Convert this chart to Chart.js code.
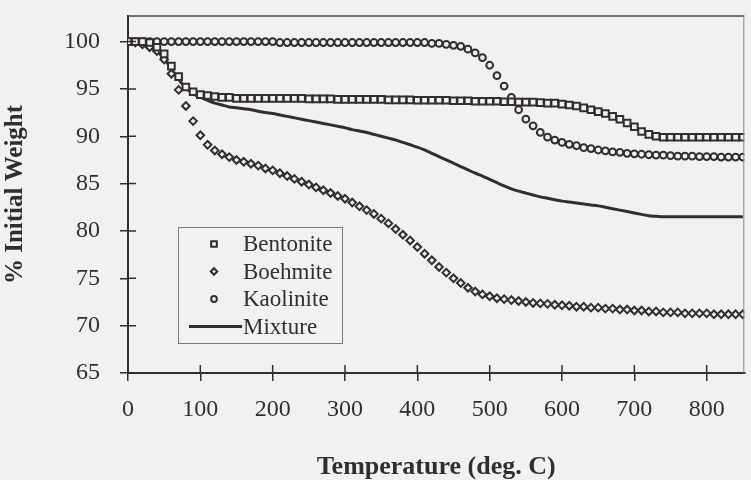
<!DOCTYPE html>
<html>
<head>
<meta charset="utf-8">
<title>TGA curves</title>
<script src="https://cdn.jsdelivr.net/npm/chart.js@4.4.1/dist/chart.umd.min.js"></script>
<style>
    html, body { margin: 0; padding: 0; background: #f1f2f0; }
    #wrap { width: 751px; height: 480px; }
</style>
</head>
<body>
<div id="wrap"><canvas id="tgaChart" width="751" height="480"></canvas></div>
<script>
// temperature in deg C, one reading every 10 degrees
const temps = [0, 10, 20, 30, 40, 50, 60, 70, 80, 90,
    100, 110, 120, 130, 140, 150, 160, 170, 180, 190,
    200, 210, 220, 230, 240, 250, 260, 270, 280, 290,
    300, 310, 320, 330, 340, 350, 360, 370, 380, 390,
    400, 410, 420, 430, 440, 450, 460, 470, 480, 490,
    500, 510, 520, 530, 540, 550, 560, 570, 580, 590,
    600, 610, 620, 630, 640, 650, 660, 670, 680, 690,
    700, 710, 720, 730, 740, 750, 760, 770, 780, 790,
    800, 810, 820, 830, 840, 850];

const bentonite = [100, 100, 100, 99.9, 99.4, 98.7, 97.4, 96.3, 95.2, 94.7,
    94.4, 94.3, 94.2, 94.1, 94.1, 94.0, 94.0, 94.0, 94.0, 94.0,
    94.0, 94.0, 94.0, 94.0, 94.0, 93.95, 93.95, 93.95, 93.95, 93.9,
    93.9, 93.9, 93.9, 93.9, 93.9, 93.9, 93.85, 93.85, 93.85, 93.85,
    93.8, 93.8, 93.8, 93.8, 93.8, 93.75, 93.75, 93.75, 93.7, 93.7,
    93.7, 93.7, 93.65, 93.65, 93.6, 93.6, 93.6, 93.55, 93.5, 93.5,
    93.4, 93.3, 93.2, 93.0, 92.8, 92.6, 92.4, 92.1, 91.8, 91.4,
    91.0, 90.5, 90.2, 90.0, 89.9, 89.9, 89.9, 89.9, 89.9, 89.9,
    89.9, 89.9, 89.9, 89.9, 89.9, 89.9];

const boehmite = [100, 99.9, 99.7, 99.4, 99.0, 98.1, 96.6, 94.9, 93.2, 91.6,
    90.1, 89.1, 88.5, 88.1, 87.8, 87.5, 87.3, 87.1, 86.9, 86.6,
    86.4, 86.1, 85.8, 85.5, 85.2, 84.9, 84.6, 84.3, 84.0, 83.7,
    83.4, 83.0, 82.6, 82.2, 81.8, 81.3, 80.8, 80.2, 79.6, 79.0,
    78.3, 77.6, 76.9, 76.2, 75.6, 75.0, 74.5, 74.0, 73.6, 73.3,
    73.1, 72.9, 72.8, 72.7, 72.6, 72.5, 72.4, 72.35, 72.3, 72.2,
    72.15, 72.1, 72.0, 72.0, 71.9, 71.9, 71.8, 71.8, 71.7, 71.7,
    71.6, 71.6, 71.5, 71.5, 71.4, 71.4, 71.4, 71.3, 71.3, 71.3,
    71.3, 71.2, 71.2, 71.2, 71.2, 71.2];

const kaolinite = [100, 100, 100, 100, 100, 100, 100, 100, 100, 100,
    100, 100, 100, 100, 100, 100, 100, 100, 100, 100,
    100, 99.9, 99.9, 99.9, 99.9, 99.9, 99.9, 99.9, 99.9, 99.9,
    99.9, 99.9, 99.9, 99.9, 99.9, 99.9, 99.9, 99.9, 99.9, 99.9,
    99.9, 99.9, 99.8, 99.8, 99.7, 99.6, 99.5, 99.2, 98.8, 98.3,
    97.5, 96.4, 95.3, 94.1, 92.8, 91.8, 91.1, 90.4, 89.9, 89.6,
    89.35, 89.15, 89.0, 88.8, 88.7, 88.55, 88.45, 88.35, 88.3, 88.2,
    88.15, 88.1, 88.05, 88.0, 88.0, 87.95, 87.9, 87.9, 87.9, 87.85,
    87.85, 87.85, 87.8, 87.8, 87.8, 87.8];

const mixture = [100, 99.95, 99.8, 99.5, 99.0, 98.2, 97.1, 96.0, 95.1, 94.5,
    94.1, 93.8, 93.5, 93.3, 93.1, 93.0, 92.9, 92.8, 92.65, 92.5,
    92.4, 92.25, 92.1, 91.95, 91.8, 91.65, 91.5, 91.35, 91.2, 91.05,
    90.9, 90.7, 90.55, 90.4, 90.2, 90.0, 89.8, 89.6, 89.35, 89.1,
    88.85, 88.55, 88.2, 87.85, 87.5, 87.15, 86.8, 86.45, 86.1, 85.8,
    85.45, 85.1, 84.75, 84.45, 84.2, 84.0, 83.8, 83.6, 83.45, 83.3,
    83.15, 83.05, 82.95, 82.85, 82.75, 82.65, 82.5, 82.35, 82.2, 82.05,
    81.9, 81.75, 81.6, 81.55, 81.5, 81.5, 81.5, 81.5, 81.5, 81.5,
    81.5, 81.5, 81.5, 81.5, 81.5, 81.5];

const yTicks = [65, 70, 75, 80, 85, 90, 95, 100];
const xTicks = [0, 100, 200, 300, 400, 500, 600, 700, 800];

const ink = '#332d30';
const serif = '"Liberation Serif", "Times New Roman", serif';

function pairs(ys) {
    return temps.map((t, i) => ({ x: t, y: ys[i] }));
}

// excel style cross ticks, top/right frame
const framePlugin = {
    id: 'frame',
    afterDraw(chart) {
        const ctx = chart.ctx;
        const a = chart.chartArea;
        const xs = chart.scales.x;
        const ys = chart.scales.y;
        ctx.save();
        ctx.strokeStyle = ink;
        ctx.lineWidth = 1.5;
        ctx.beginPath();
        xTicks.forEach(v => {
            const px = xs.getPixelForValue(v);
            ctx.moveTo(px, a.bottom);
            ctx.lineTo(px, a.bottom - 8);
        });
        yTicks.forEach(v => {
            const py = ys.getPixelForValue(v);
            ctx.moveTo(a.left, py);
            ctx.lineTo(a.left + 8, py);
        });
        ctx.stroke();

        ctx.lineWidth = 1.5;
        ctx.strokeStyle = '#4a4446';
        ctx.beginPath();
        ctx.moveTo(a.left, a.top);
        ctx.lineTo(a.right, a.top);
        ctx.stroke();
        ctx.strokeStyle = '#8a8688';
        ctx.lineWidth = 1;
        ctx.beginPath();
        ctx.moveTo(a.right - 0.5, a.top);
        ctx.lineTo(a.right - 0.5, a.bottom);
        ctx.stroke();
        ctx.restore();
    }
};

// legend box sitting inside the plot
const boxLegend = {
    id: 'boxLegend',
    afterDraw(chart) {
        const ctx = chart.ctx;
        const box = { x: 178, y: 227, w: 164, h: 116 };
        ctx.save();
        ctx.fillStyle = '#f1f2f0';
        ctx.fillRect(box.x, box.y, box.w, box.h);
        ctx.strokeStyle = '#7c7879';
        ctx.lineWidth = 1;
        ctx.strokeRect(box.x + 0.5, box.y + 0.5, box.w, box.h);

        ctx.font = '23px ' + serif;
        ctx.fillStyle = ink;
        ctx.textBaseline = 'middle';
        chart.data.datasets.forEach((ds, i) => {
            const y = box.y + 17 + i * 27.5;
            if (ds.showLine) {
                ctx.strokeStyle = ds.borderColor;
                ctx.lineWidth = ds.borderWidth;
                ctx.beginPath();
                ctx.moveTo(box.x + 11, y);
                ctx.lineTo(box.x + 64, y);
                ctx.stroke();
            } else {
                ctx.strokeStyle = ds.pointBorderColor;
                ctx.fillStyle = ds.pointBackgroundColor;
                ctx.lineWidth = ds.pointBorderWidth;
                Chart.helpers.drawPoint(ctx, {
                    pointStyle: ds.pointStyle,
                    radius: ds.pointRadius * 0.85,
                    borderWidth: ds.pointBorderWidth,
                    rotation: 0
                }, box.x + 36, y);
                ctx.fillStyle = ink;
            }
            ctx.fillText(ds.label, box.x + 65, y + 1);
        });
        ctx.restore();
    }
};

function markerSet(label, ys, style, r) {
    return {
        label: label,
        data: pairs(ys),
        showLine: false,
        pointStyle: style,
        pointRadius: r,
        pointBorderWidth: 2,
        pointBorderColor: ink,
        pointBackgroundColor: 'rgba(241,242,240,1)',
        pointHoverRadius: r
    };
}

const ctx = document.getElementById('tgaChart').getContext('2d');

const tgaChart = new Chart(ctx, {
    type: 'scatter',
    data: {
        datasets: [
            markerSet('Bentonite', bentonite, 'rect', 4.7),
            markerSet('Boehmite', boehmite, 'rectRot', 3.8),
            markerSet('Kaolinite', kaolinite, 'circle', 3.4),
            {
                label: 'Mixture',
                data: pairs(mixture),
                showLine: true,
                borderColor: ink,
                borderWidth: 3,
                pointRadius: 0,
                cubicInterpolationMode: 'monotone'
            }
        ]
    },
    options: {
        responsive: false,
        animation: false,
        devicePixelRatio: 1,
        layout: { padding: { left: 0, right: 3, top: 16, bottom: 0 } },
        plugins: {
            legend: { display: false },
            tooltip: { enabled: false }
        },
        scales: {
            x: {
                type: 'linear',
                min: 0,
                max: 852,
                afterFit: s => { s.height = 107; },
                ticks: {
                    stepSize: 100,
                    includeBounds: false,
                    padding: 14,
                    color: ink,
                    font: { family: serif, size: 24 },
                    maxRotation: 0
                },
                grid: {
                    drawOnChartArea: false,
                    tickLength: 8,
                    color: ink,
                    lineWidth: 1.5
                },
                border: { color: ink, width: 2 },
                title: {
                    display: true,
                    text: 'Temperature (deg. C)',
                    color: ink,
                    font: { family: serif, size: 26, weight: 'bold', lineHeight: 1 },
                    padding: { top: 0, bottom: 0 }
                }
            },
            y: {
                type: 'linear',
                min: 65,
                max: 102.7,
                afterFit: s => {
                    s.width = 128;
                    s.paddingTop = 0;
                    s.paddingBottom = 0;
                },
                ticks: {
                    stepSize: 5,
                    includeBounds: false,
                    padding: 20,
                    color: ink,
                    font: { family: serif, size: 24 }
                },
                grid: {
                    drawOnChartArea: false,
                    tickLength: 8,
                    color: ink,
                    lineWidth: 1.5
                },
                border: { color: ink, width: 2 },
                title: {
                    display: true,
                    text: '% Initial Weight',
                    color: ink,
                    font: { family: serif, size: 25, weight: 'bold', lineHeight: 1.2 },
                    padding: { top: 1, bottom: 0 }
                }
            }
        }
    },
    plugins: [framePlugin, boxLegend]
});
</script>
</body>
</html>
